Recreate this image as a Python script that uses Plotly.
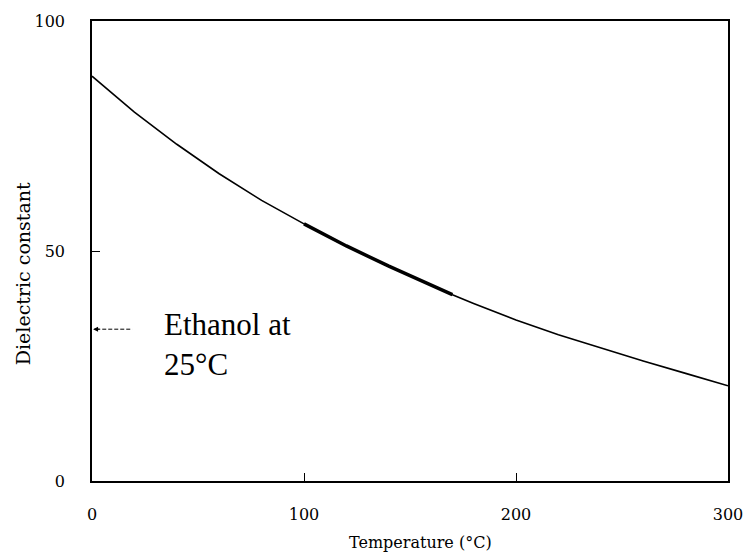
import plotly.graph_objects as go

temperature = [0, 20, 40, 60, 80, 100, 120, 140, 160, 170, 180, 200, 220, 240, 260, 280, 300]
dielectric = [88.0, 80.2, 73.2, 66.8, 61.0, 55.9, 51.1, 46.7, 42.6, 40.5, 38.6, 35.0, 31.8, 28.9, 26.1, 23.4, 20.7]
x_ticks = [0, 100, 200, 300]
y_ticks = [0, 50, 100]
ethanol_value = 33
bold_range = (96, 172)

serif = "Liberation Serif, Times New Roman, serif"
wide_serif = "DejaVu Serif, serif"

bold_t = [t for t in temperature if bold_range[0] <= t <= bold_range[1]]
bold_d = [d for t, d in zip(temperature, dielectric) if bold_range[0] <= t <= bold_range[1]]

fig = go.Figure()
fig.add_trace(go.Scatter(x=temperature, y=dielectric, mode="lines",
                         line=dict(color="black", width=1.6), hoverinfo="skip"))
fig.add_trace(go.Scatter(x=bold_t, y=bold_d, mode="lines",
                         line=dict(color="black", width=3.5), hoverinfo="skip"))
# dashed arrow shaft
fig.add_trace(go.Scatter(x=[2, 19], y=[ethanol_value, ethanol_value], mode="lines",
                         line=dict(color="black", width=1, dash="4px,2px"), hoverinfo="skip"))

fig.add_annotation(x=0.5, y=ethanol_value, ax=8, ay=0, axref="pixel", ayref="pixel",
                   xref="x", yref="y", text="", showarrow=True, arrowhead=2,
                   arrowsize=1, arrowwidth=1, arrowcolor="black")
fig.add_annotation(x=33, y=29.6, xref="x", yref="y", text="Ethanol at<br>25°C",
                   showarrow=False, xanchor="left", yanchor="middle", align="left",
                   font=dict(family=serif, size=31, color="black"))
fig.add_annotation(x=-0.109, y=0.451, xref="paper", yref="paper", text="Dielectric constant",
                   showarrow=False, textangle=-90, xanchor="center", yanchor="middle",
                   font=dict(family=wide_serif, size=19, color="black"))
fig.add_annotation(x=0.516, y=-0.134, xref="paper", yref="paper", text="Temperature (°C)",
                   showarrow=False, xanchor="center", yanchor="middle",
                   font=dict(family=wide_serif, size=16, color="black"))

axis_common = dict(showline=True, mirror=True, linecolor="black", linewidth=1.5,
                   showgrid=False, zeroline=False, ticks="inside", ticklen=8,
                   tickcolor="black", tickwidth=1,
                   tickfont=dict(family=wide_serif, size=16, color="black"))
fig.update_xaxes(range=[0, 300], tickvals=x_ticks, ticktext=[str(v) for v in x_ticks],
                 ticklabelstandoff=18, **axis_common)
fig.update_yaxes(range=[0, 100], tickvals=y_ticks, ticktext=[str(v) for v in y_ticks],
                 ticklabelstandoff=22, **axis_common)

fig.update_layout(width=755, height=554, showlegend=False,
                  margin=dict(l=92, r=21, t=18, b=73),
                  plot_bgcolor="white", paper_bgcolor="white")
fig.write_html("out.html", config={"displayModeBar": False},
               post_script="document.body.style.margin='0';document.body.style.padding='0';")
